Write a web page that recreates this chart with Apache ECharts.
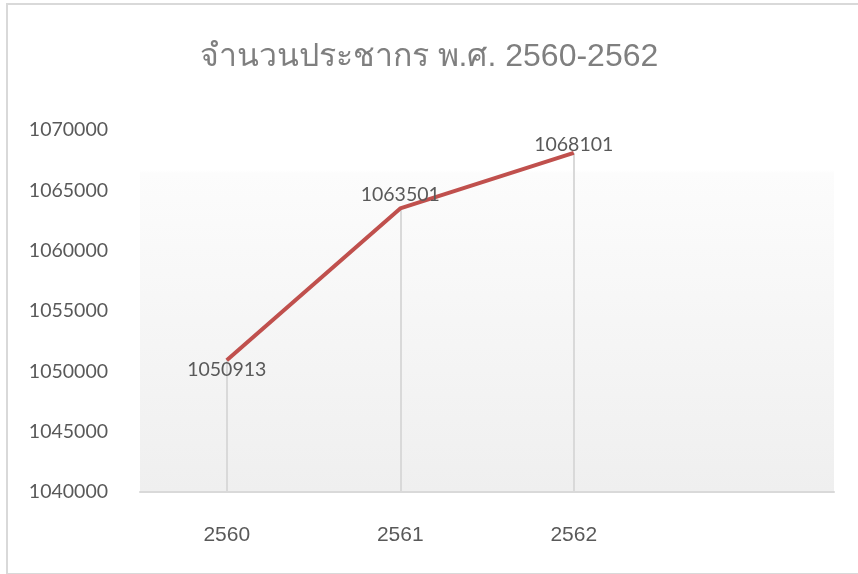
<!DOCTYPE html>
<html>
<head>
<meta charset="utf-8">
<script src="https://cdn.jsdelivr.net/npm/echarts@6/dist/echarts.min.js"></script>
<style>
  html, body { margin: 0; padding: 0; background: #fff; }
  #wrap { position: relative; width: 858px; height: 574px; overflow: hidden; }
  #frame { position: absolute; left: 6px; top: 3px; width: 870px; height: 568px; border: 2px solid #d9d9d9; }
  #chart { position: absolute; left: 0; top: 0; width: 858px; height: 574px; }
</style>
</head>
<body>
<div id="wrap">
  <div id="frame"></div>
  <div id="chart"></div>
</div>
<script>
// data
const titleText = 'จำนวนประชากร พ.ศ. 2560-2562'
const years = ['2560', '2561', '2562', '']
const population = [1050913, 1063501, 1068101]
const yMin = 1040000
const yMax = 1070000
const yStep = 5000

const labelPos = ['bottom', 'top', 'top']
const labelDist = [-2, 3, -3]

const chart = echarts.init(document.getElementById('chart'))

const seriesData = population.map((v, i) => ({
  value: v,
  label: { position: labelPos[i], distance: labelDist[i] }
}))

// drop lines from each point down to the axis
const dropLines = population.map((v, i) => [
  { coord: [i, v] },
  { coord: [i, yMin] }
])

chart.setOption({
  animation: false,
  title: {
    text: titleText,
    left: 'center',
    top: 36,
    textStyle: {
      color: '#7f7f7f',
      fontSize: 32,
      fontWeight: 'normal',
      fontFamily: 'Liberation Sans, Noto Sans, sans-serif'
    }
  },
  grid: {
    left: 140,
    right: 24,
    top: 130,
    bottom: 82,
    show: true,
    borderWidth: 0,
    backgroundColor: {
      type: 'linear', x: 0, y: 0, x2: 0, y2: 1,
      colorStops: [
        { offset: 0, color: '#ffffff' },
        { offset: 0.11, color: '#ffffff' },
        { offset: 0.12, color: '#fcfcfc' },
        { offset: 1, color: '#efefef' }
      ]
    }
  },
  xAxis: {
    type: 'category',
    data: years,
    boundaryGap: true,
    axisLine: { lineStyle: { color: '#d9d9d9', width: 2 } },
    axisTick: { show: false },
    axisLabel: {
      color: '#595959',
      fontSize: 21,
      margin: 33,
      fontFamily: 'Liberation Sans, Arial, sans-serif'
    },
    splitLine: { show: false }
  },
  yAxis: {
    type: 'value',
    min: yMin,
    max: yMax,
    interval: yStep,
    axisLine: { show: false },
    axisTick: { show: false },
    splitLine: { show: false },
    axisLabel: {
      color: '#595959',
      fontSize: 19.5,
      margin: 32,
      fontFamily: 'Lato, Noto Sans, sans-serif',
      formatter: v => String(v)
    }
  },
  series: [
    {
      type: 'line',
      data: seriesData,
      symbol: 'circle',
      symbolSize: 2,
      showSymbol: true,
      lineStyle: { color: '#c0504d', width: 4 },
      itemStyle: { color: 'rgba(192,80,77,0)' },
      label: {
        show: true,
        color: '#595959',
        fontSize: 19.5,
        fontFamily: 'Lato, Noto Sans, sans-serif'
      },
      labelLayout: { hideOverlap: false },
      markLine: {
        silent: true,
        symbol: 'none',
        label: { show: false },
        lineStyle: { color: '#d9d9d9', type: 'solid', width: 2 },
        z: 1,
        data: dropLines
      },
      z: 3
    }
  ]
})
</script>
</body>
</html>
